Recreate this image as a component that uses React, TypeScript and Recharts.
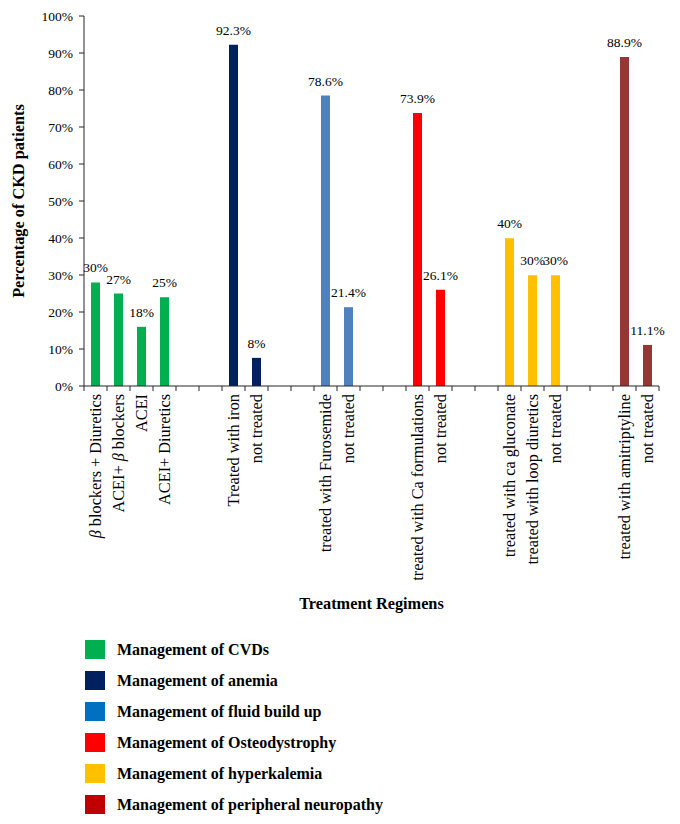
import React from "react";
import { BarChart, Bar, XAxis, YAxis, Cell, LabelList, Legend } from "recharts";

const categories = [
  "β blockers + Diuretics",
  "ACEI+ β blockers",
  "ACEI",
  "ACEI+ Diuretics",
  "",
  "",
  "Treated with iron",
  "not treated",
  "",
  "",
  "treated with Furosemide",
  "not treated",
  "",
  "",
  "treated with Ca formulations",
  "not treated",
  "",
  "",
  "treated with ca gluconate",
  "treated with loop diuretics",
  "not treated",
  "",
  "",
  "treated with amitriptyline",
  "not treated",
];

const values: (number | null)[] = [
  28, 25, 16, 24, null, null, 92.2, 7.6, null, null, 78.5, 21.3, null, null, 73.8, 26, null, null, 39.9, 29.9,
  29.9, null, null, 88.9, 11.1,
];

const valueLabels = [
  "30%", "27%", "18%", "25%", "", "", "92.3%", "8%", "", "", "78.6%", "21.4%", "", "", "73.9%", "26.1%", "", "",
  "40%", "30%", "30%", "", "", "88.9%", "11.1%",
];

const groupOf = [0, 0, 0, 0, -1, -1, 1, 1, -1, -1, 2, 2, -1, -1, 3, 3, -1, -1, 4, 4, 4, -1, -1, 5, 5];

const groupNames = [
  "Management of CVDs",
  "Management of anemia",
  "Management of fluid build up",
  "Management of Osteodystrophy",
  "Management of hyperkalemia",
  "Management of peripheral neuropathy",
];

const barColors = ["#00B050", "#002060", "#4F81BD", "#FF0000", "#FFC000", "#953735"];
const legendColors = ["#00B050", "#002060", "#0070C0", "#FF0000", "#FFC000", "#C00000"];

const yTicks = [0, 10, 20, 30, 40, 50, 60, 70, 80, 90, 100];

const FONT = '"Liberation Serif", "Times New Roman", serif';
const CHART_W = 680;
const CHART_H = 824;
const MARGIN = { top: 16, right: 21, left: 0, bottom: 0 };
const Y_AXIS_W = 84;
const X_AXIS_H = 438;
const PLOT_W = CHART_W - MARGIN.right - MARGIN.left - Y_AXIS_W;
const BAND = PLOT_W / categories.length;
const AXIS_COLOR = "#262626";

const data = categories.map((name, i) => ({
  idx: i,
  name,
  value: values[i],
  label: valueLabels[i],
}));

const renderLabelText = (text: string) => {
  const parts = text.split("β");
  const out: React.ReactNode[] = [];
  parts.forEach((p, i) => {
    if (i > 0) {
      out.push(
        <tspan key={`b${i}`} fontStyle="italic">
          β
        </tspan>
      );
    }
    if (p) out.push(<tspan key={`p${i}`}>{p}</tspan>);
  });
  return out;
};

const XTick = (props: any) => {
  const { x, y, payload } = props;
  const i = Number(payload.value);
  const label = categories[i] ?? "";
  const left = x - BAND / 2;
  const ly = y + 8;
  return (
    <g>
      <line x1={left} y1={y} x2={left} y2={y + 5} stroke={AXIS_COLOR} strokeWidth={1} />
      {i === categories.length - 1 && (
        <line x1={x + BAND / 2} y1={y} x2={x + BAND / 2} y2={y + 5} stroke={AXIS_COLOR} strokeWidth={1} />
      )}
      {label && (
        <text
          x={x}
          y={ly}
          dy="0.35em"
          transform={`rotate(-90, ${x}, ${ly})`}
          textAnchor="end"
          style={{ fontFamily: FONT, fontSize: 16.3 }}
          fill="#000"
        >
          {renderLabelText(label)}
        </text>
      )}
    </g>
  );
};

const YTick = (props: any) => {
  const { x, y, payload } = props;
  return (
    <text x={x} y={y} dy="0.35em" textAnchor="end" style={{ fontFamily: FONT, fontSize: 13.5 }} fill="#000">
      {`${payload.value}%`}
    </text>
  );
};

const BarLabel = (props: any) => {
  const { x, y, width, value } = props;
  if (!value) return null;
  return (
    <text
      x={Number(x) + Number(width) / 2}
      y={Number(y) - 10}
      textAnchor="middle"
      style={{ fontFamily: FONT, fontSize: 13.5 }}
      fill="#000"
    >
      {value}
    </text>
  );
};

const LegendContent = () => (
  <div style={{ fontFamily: FONT }}>
    {groupNames.map((g, i) => (
      <div key={g} style={{ display: "flex", alignItems: "center", height: 31, paddingLeft: 85 }}>
        <div style={{ width: 20, height: 19, background: legendColors[i], marginRight: 12 }} />
        <span style={{ fontSize: 16, fontWeight: "bold", color: "#000" }}>{g}</span>
      </div>
    ))}
  </div>
);

export default function App() {
  return (
    <div style={{ position: "absolute", left: 0, top: 0, width: CHART_W, height: CHART_H, background: "#fff" }}>
      <BarChart width={CHART_W} height={CHART_H} data={data} margin={MARGIN} barCategoryGap={0}>
        <XAxis
          dataKey="idx"
          type="category"
          interval={0}
          height={X_AXIS_H}
          tickSize={0}
          tickMargin={0}
          tickLine={false}
          axisLine={{ stroke: AXIS_COLOR }}
          tick={<XTick />}
          label={{
            content: (p: any) => {
              const vb = p.viewBox || {};
              return (
                <text
                  x={vb.x + vb.width / 2}
                  y={609}
                  textAnchor="middle"
                  style={{ fontFamily: FONT, fontSize: 16.3, fontWeight: "bold" }}
                  fill="#000"
                >
                  Treatment Regimens
                </text>
              );
            },
          }}
        />
        <YAxis
          width={Y_AXIS_W}
          domain={[0, 100]}
          ticks={yTicks}
          interval={0}
          tickSize={5}
          tickMargin={6}
          axisLine={{ stroke: AXIS_COLOR }}
          tickLine={{ stroke: AXIS_COLOR }}
          tick={<YTick />}
          label={{
            content: (p: any) => {
              const vb = p.viewBox || {};
              const cy = vb.y + vb.height / 2;
              return (
                <text
                  x={18}
                  y={cy}
                  dy="0.35em"
                  transform={`rotate(-90, 18, ${cy})`}
                  textAnchor="middle"
                  style={{ fontFamily: FONT, fontSize: 16.3, fontWeight: "bold" }}
                  fill="#000"
                >
                  Percentage of CKD patients
                </text>
              );
            },
          }}
        />
        <Legend
          verticalAlign="middle"
          align="center"
          layout="horizontal"
          content={<LegendContent />}
          wrapperStyle={{ left: 0, top: 634, width: 680, height: 190 }}
        />
        <Bar dataKey="value" barSize={9} isAnimationActive={false}>
          {data.map((d, i) => (
            <Cell key={i} fill={groupOf[i] >= 0 ? barColors[groupOf[i]] : "transparent"} />
          ))}
          <LabelList dataKey="label" content={<BarLabel />} />
        </Bar>
      </BarChart>
    </div>
  );
}
